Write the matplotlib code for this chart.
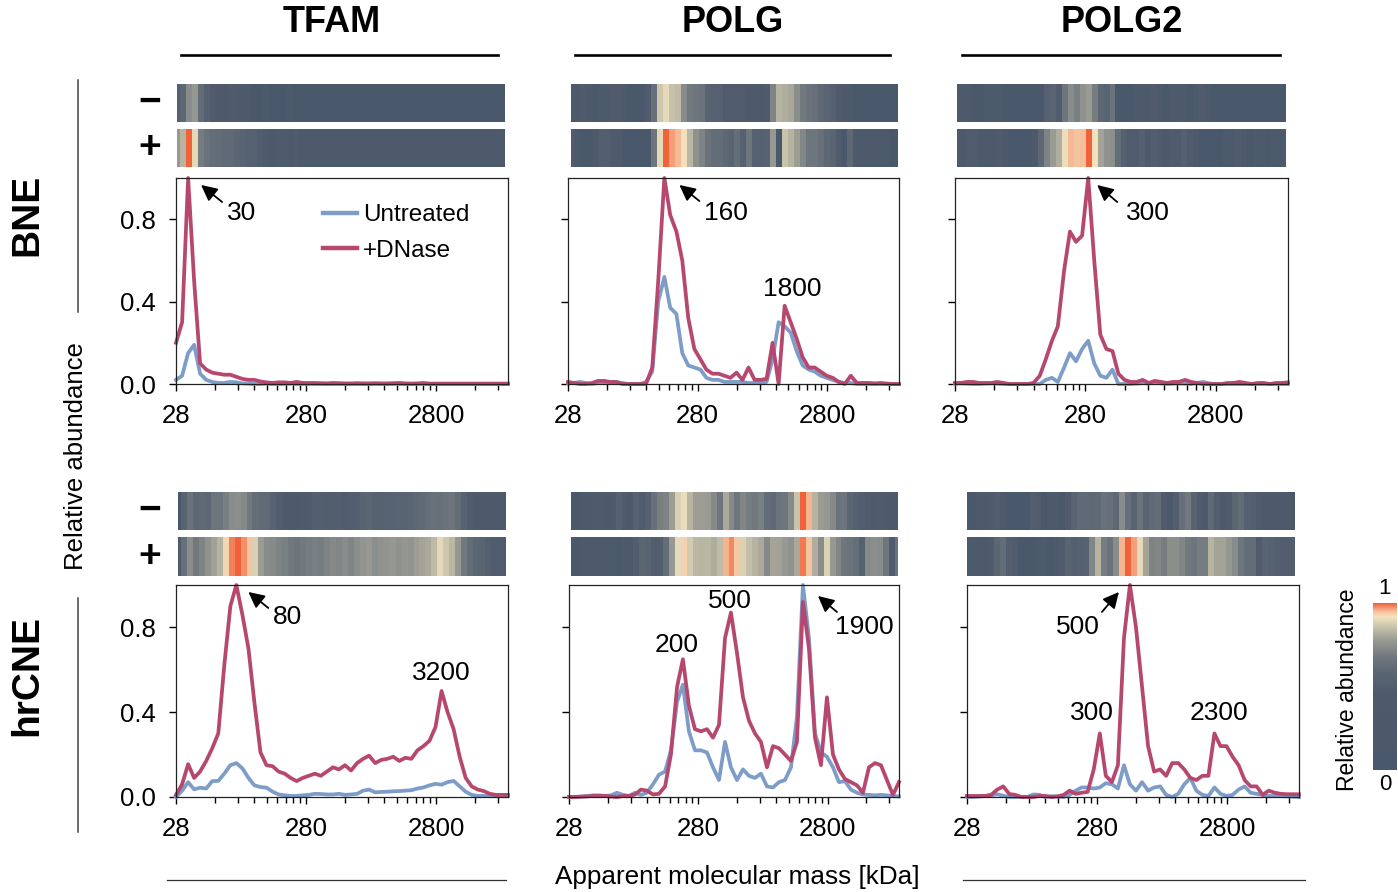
import numpy as np
import matplotlib as mpl
import matplotlib.pyplot as plt
from matplotlib.colors import LinearSegmentedColormap, PowerNorm, Normalize
from matplotlib.lines import Line2D
from matplotlib.ticker import FixedLocator, NullFormatter

plt.rcParams['font.family'] = ['Liberation Sans', 'DejaVu Sans']

# apparent molecular mass of each fraction (kDa)
mass = [28, 31.2, 34.7, 38.6, 42.9, 47.8, 53.2, 59.2, 65.8, 73.3,
        81.5, 90.7, 101, 112, 125, 139, 155, 172, 192, 213,
        237, 264, 294, 327, 364, 405, 451, 501, 558, 621,
        691, 769, 855, 952, 1059, 1179, 1312, 1460, 1624, 1807,
        2011, 2238, 2490, 2771, 3084, 3431, 3818, 4249, 4728, 5261,
        5855, 6515, 7250, 8067, 8977, 9990]

# --- BNE ---
tfam_bne_untreated = [0.02, 0.04, 0.15, 0.19, 0.05, 0.02, 0.01, 0.005, 0.005, 0.01,
                      0.008, 0.003, 0.002, 0, 0, 0.002, 0, 0, 0, 0.002,
                      0, 0, 0, 0, 0, 0, 0, 0, 0, 0,
                      0, 0, 0, 0, 0, 0, 0, 0, 0, 0,
                      0, 0, 0, 0, 0, 0, 0, 0, 0, 0,
                      0, 0, 0, 0, 0, 0]
tfam_bne_dnase = [0.2, 0.3, 1.0, 0.5, 0.1, 0.07, 0.055, 0.05, 0.045, 0.045,
                  0.035, 0.025, 0.02, 0.02, 0.012, 0.008, 0.005, 0.008, 0.008, 0.005,
                  0.01, 0.005, 0.005, 0.005, 0.004, 0.003, 0.005, 0.004, 0.003, 0.003,
                  0.004, 0.003, 0.003, 0.004, 0.003, 0.003, 0.004, 0.005, 0.003, 0.002,
                  0.003, 0.005, 0.002, 0.002, 0.002, 0.002, 0.002, 0.002, 0.002, 0.002,
                  0.002, 0.002, 0.002, 0.002, 0.002, 0.002]
polg_bne_untreated = [0.005, 0.005, 0.01, 0.005, 0, 0.005, 0.005, 0.01, 0.01, 0.005,
                      0, 0, 0, 0.01, 0.06, 0.4, 0.52, 0.37, 0.34, 0.15,
                      0.09, 0.08, 0.07, 0.03, 0.02, 0.02, 0.01, 0.01, 0.01, 0.01,
                      0.005, 0.005, 0.005, 0.01, 0.12, 0.3, 0.28, 0.25, 0.16, 0.09,
                      0.07, 0.06, 0.04, 0.03, 0.02, 0.01, 0.005, 0.005, 0, 0,
                      0, 0, 0, 0, 0, 0]
polg_bne_dnase = [0.01, 0.005, 0, 0, 0.005, 0.015, 0.015, 0.01, 0.01, 0,
                  0, 0, 0, 0, 0.08, 0.5, 1.0, 0.82, 0.74, 0.6,
                  0.32, 0.17, 0.12, 0.07, 0.05, 0.05, 0.04, 0.03, 0.055, 0.02,
                  0.08, 0.02, 0.02, 0.025, 0.2, 0.0, 0.38, 0.3, 0.22, 0.13,
                  0.08, 0.08, 0.06, 0.04, 0.03, 0.01, 0, 0.04, 0.005, 0.005,
                  0.005, 0.003, 0.005, 0.002, 0, 0]
polg2_bne_untreated = [0.002, 0.003, 0.002, 0, 0, 0.002, 0.003, 0.002, 0, 0,
                       0, 0, 0, 0, 0, 0.02, 0.03, 0.01, 0.08, 0.15,
                       0.11, 0.17, 0.21, 0.1, 0.04, 0.03, 0.07, 0, 0, 0,
                       0.002, 0.005, 0.002, 0.01, 0.003, 0, 0.002, 0.003, 0.002, 0,
                       0.005, 0.01, 0.003, 0, 0, 0, 0, 0, 0, 0,
                       0, 0, 0, 0, 0, 0]
polg2_bne_dnase = [0.005, 0.005, 0.01, 0.01, 0.005, 0.005, 0.005, 0.01, 0.005, 0,
                   0, 0, 0, 0.005, 0.04, 0.12, 0.21, 0.28, 0.55, 0.74,
                   0.69, 0.72, 1.0, 0.6, 0.24, 0.17, 0.16, 0.05, 0.02, 0.01,
                   0.01, 0.02, 0.005, 0.015, 0.01, 0.005, 0.01, 0.01, 0.02, 0.01,
                   0.005, 0, 0, 0, 0, 0.005, 0.005, 0.01, 0.005, 0,
                   0.005, 0.005, 0, 0.005, 0.005, 0.008]

# --- hrCNE ---
tfam_cne_untreated = [0, 0.03, 0.07, 0.036, 0.044, 0.04, 0.075, 0.076, 0.11, 0.15,
                      0.16, 0.135, 0.09, 0.055, 0.047, 0.044, 0.025, 0.012, 0.008, 0.005,
                      0.005, 0.008, 0.01, 0.015, 0.014, 0.012, 0.012, 0.015, 0.01, 0.012,
                      0.015, 0.03, 0.035, 0.022, 0.024, 0.025, 0.027, 0.028, 0.03, 0.032,
                      0.04, 0.045, 0.055, 0.062, 0.058, 0.07, 0.076, 0.05, 0.025, 0.01,
                      0.005, 0.005, 0.005, 0.004, 0.004, 0.004]
tfam_cne_dnase = [0.01, 0.06, 0.155, 0.09, 0.12, 0.17, 0.23, 0.3, 0.62, 0.9,
                  1.0, 0.86, 0.7, 0.45, 0.21, 0.15, 0.145, 0.12, 0.11, 0.09,
                  0.075, 0.09, 0.1, 0.11, 0.1, 0.12, 0.14, 0.13, 0.15, 0.125,
                  0.16, 0.18, 0.195, 0.16, 0.175, 0.18, 0.19, 0.17, 0.185, 0.18,
                  0.22, 0.24, 0.265, 0.33, 0.5, 0.4, 0.32, 0.19, 0.09, 0.05,
                  0.035, 0.028, 0.015, 0.01, 0.01, 0.01]
polg_cne_untreated = [0, 0, 0.002, 0.004, 0.008, 0.008, 0.005, 0.008, 0.02, 0.01,
                      0.005, 0.02, 0.01, 0.02, 0.06, 0.105, 0.12, 0.22, 0.45, 0.53,
                      0.31, 0.22, 0.22, 0.21, 0.14, 0.08, 0.26, 0.14, 0.08, 0.13,
                      0.1, 0.09, 0.11, 0.05, 0.045, 0.07, 0.08, 0.14, 0.38, 1.0,
                      0.75, 0.3, 0.21, 0.19, 0.14, 0.07, 0.075, 0.035, 0.02, 0.012,
                      0.01, 0.008, 0.01, 0.008, 0.004, 0.003]
polg_cne_dnase = [0, 0, 0.002, 0.003, 0.005, 0.005, 0.005, 0.002, 0, 0.005,
                  0.005, 0.012, 0.035, 0.03, 0.012, 0.015, 0.05, 0.2, 0.52, 0.65,
                  0.43, 0.32, 0.31, 0.32, 0.28, 0.34, 0.75, 0.87, 0.68, 0.47,
                  0.36, 0.3, 0.26, 0.14, 0.24, 0.23, 0.2, 0.17, 0.26, 0.92,
                  0.7, 0.28, 0.15, 0.47, 0.2, 0.13, 0.085, 0.07, 0.055, 0.02,
                  0.14, 0.16, 0.15, 0.08, 0.01, 0.07]
polg2_cne_untreated = [0, 0, 0.002, 0.005, 0.008, 0.013, 0.006, 0, 0, 0,
                       0, 0.012, 0.01, 0, 0.004, 0.002, 0, 0.01, 0.03, 0.045,
                       0.045, 0.04, 0.045, 0.065, 0.06, 0.04, 0.15, 0.06, 0.03, 0.07,
                       0.03, 0.045, 0.05, 0.01, 0, 0.015, 0.06, 0.09, 0.03, 0.01,
                       0.005, 0.045, 0.015, 0.005, 0.01, 0.035, 0.05, 0.02, 0.015, 0.01,
                       0.005, 0.005, 0.004, 0.003, 0.002, 0]
polg2_cne_dnase = [0.005, 0.005, 0.005, 0.005, 0.01, 0.035, 0.05, 0.014, 0.01, 0,
                   0, 0, 0.005, 0.005, 0, 0.003, 0.01, 0.03, 0.015, 0.02,
                   0.024, 0.13, 0.3, 0.1, 0.07, 0.15, 0.75, 1.0, 0.8, 0.52,
                   0.24, 0.12, 0.13, 0.1, 0.16, 0.16, 0.13, 0.09, 0.08, 0.1,
                   0.1, 0.3, 0.24, 0.24, 0.19, 0.15, 0.08, 0.05, 0.05, 0.01,
                   0.03, 0.02, 0.015, 0.013, 0.013, 0.013]

proteins = ['TFAM', 'POLG', 'POLG2']
methods = ['BNE', 'hrCNE']
profiles = {
    ('BNE', 'TFAM'): (tfam_bne_untreated, tfam_bne_dnase),
    ('BNE', 'POLG'): (polg_bne_untreated, polg_bne_dnase),
    ('BNE', 'POLG2'): (polg2_bne_untreated, polg2_bne_dnase),
    ('hrCNE', 'TFAM'): (tfam_cne_untreated, tfam_cne_dnase),
    ('hrCNE', 'POLG'): (polg_cne_untreated, polg_cne_dnase),
    ('hrCNE', 'POLG2'): (polg2_cne_untreated, polg2_cne_dnase),
}

W, H = 1398, 892
fig = plt.figure(figsize=(W / 100, H / 100), dpi=100)


def box(x0, y0, x1, y1):
    # pixel box (top-left origin) -> figure fraction rect
    return [x0 / W, 1 - y1 / H, (x1 - x0) / W, (y1 - y0) / H]


# panel boxes: profile axes, and the x-range / rows of the heat strips
axes_px = {
    ('BNE', 'TFAM'): (176, 178, 508, 384), ('BNE', 'POLG'): (568, 178, 899, 384),
    ('BNE', 'POLG2'): (955, 178, 1288, 384),
    ('hrCNE', 'TFAM'): (176, 585, 508, 797), ('hrCNE', 'POLG'): (569, 585, 899, 797),
    ('hrCNE', 'POLG2'): (967, 585, 1299, 797),
}
strip_x = {
    ('BNE', 'TFAM'): (177, 505), ('BNE', 'POLG'): (571, 898), ('BNE', 'POLG2'): (957, 1286),
    ('hrCNE', 'TFAM'): (178, 506), ('hrCNE', 'POLG'): (571, 898), ('hrCNE', 'POLG2'): (967, 1295),
}
strip_y = {'BNE': ((84, 122), (129, 167)), 'hrCNE': ((492, 530), (537, 576))}

blue = '#7d9dc8'
red = '#b6486f'
cmap = LinearSegmentedColormap.from_list('abundance', [
    (0.0, '#4a586b'), (0.45, '#4d5a6c'), (0.58, '#5a6573'), (0.68, '#70787e'),
    (0.78, '#9a9b93'), (0.86, '#c9c4ab'), (0.92, '#f3e3c0'), (0.96, '#f5b08c'),
    (1.0, '#f0623a')])
strip_norm = PowerNorm(gamma=0.16, vmin=0, vmax=1)

m = np.array(mass)
edges = np.concatenate([[28], np.sqrt(m[:-1] * m[1:]), [10000]])
major = [28, 280, 2800]
minor = [28 * k * 10 ** d for d in range(3) for k in range(2, 10) if 28 * k * 10 ** d < 10000]

axes = {}
for method in methods:
    for ci, prot in enumerate(proteins):
        key = (method, prot)
        untreated, dnase = profiles[key]

        # heat strips: untreated (-) on top, +DNase below
        sx0, sx1 = strip_x[key]
        for (sy0, sy1), vals in zip(strip_y[method], (untreated, dnase)):
            sax = fig.add_axes(box(sx0, sy0, sx1, sy1))
            sax.pcolormesh(edges, [0, 1], np.array([vals]), cmap=cmap, norm=strip_norm)
            sax.set_xscale('log')
            sax.set_xlim(28, 10000)
            sax.set_ylim(0, 1)
            sax.axis('off')

        ax = fig.add_axes(box(*axes_px[key]))
        ax.plot(mass, untreated, color=blue, lw=2.7, clip_on=False, solid_joinstyle='round')
        ax.plot(mass, dnase, color=red, lw=2.7, clip_on=False, solid_joinstyle='round')
        ax.set_xscale('log')
        ax.set_xlim(28, 10000)
        ax.set_ylim(0, 1.0)
        ax.xaxis.set_major_locator(FixedLocator(major))
        ax.xaxis.set_minor_locator(FixedLocator(minor))
        ax.xaxis.set_minor_formatter(NullFormatter())
        ax.set_xticklabels(['28', '280', '2800'])
        ax.set_yticks([0, 0.4, 0.8])
        if ci == 0:
            ax.set_yticklabels(['0.0', '0.4', '0.8'])
        else:
            ax.set_yticklabels([])
        ax.tick_params(axis='x', which='major', length=5.2, width=1, labelsize=18.5, pad=9)
        ax.tick_params(axis='x', which='minor', length=4, width=1)
        ax.tick_params(axis='y', length=5.2, width=1, labelsize=18.5, pad=9.5)
        for sp in ax.spines.values():
            sp.set_linewidth(0.9)
            sp.set_color('#222222')
        axes[key] = ax


def arrow_label(ax, x, y, text, tip, tail, txt, ha='left'):
    px, py = ax.transData.transform((x, y))
    ax.annotate('', xy=(px + tip[0], py + tip[1]), xycoords='figure pixels',
                xytext=(px + tail[0], py + tail[1]), textcoords='figure pixels',
                arrowprops=dict(arrowstyle='-|>', color='black', lw=1.3,
                                mutation_scale=24, shrinkA=0, shrinkB=0))
    ax.annotate(text, xy=(x, y), xytext=txt, textcoords='offset pixels',
                ha=ha, va='center', fontsize=19)


def peak_label(ax, x, y, text, off):
    ax.annotate(text, xy=(x, y), xytext=off, textcoords='offset pixels',
                ha='center', va='center', fontsize=19)


arrow_label(axes[('BNE', 'TFAM')], mass[2], tfam_bne_dnase[2], '30', (13, -7), (34, -24), (39, -35))
arrow_label(axes[('BNE', 'POLG')], mass[16], polg_bne_dnase[16], '160', (15, -7), (35, -23), (40, -35))
arrow_label(axes[('BNE', 'POLG2')], mass[22], polg2_bne_dnase[22], '300', (9, -7), (29, -24), (38, -35))
peak_label(axes[('BNE', 'POLG')], mass[36], polg_bne_dnase[36], '1800', (8, 17))

arrow_label(axes[('hrCNE', 'TFAM')], mass[10], tfam_cne_dnase[10], '80', (12, -7), (32, -23), (37, -32))
peak_label(axes[('hrCNE', 'TFAM')], mass[44], tfam_cne_dnase[44], '3200', (0, 18))
arrow_label(axes[('hrCNE', 'POLG')], mass[39], polg_cne_untreated[39], '1900', (15, -11), (34, -27), (32, -42))
peak_label(axes[('hrCNE', 'POLG')], mass[19], polg_cne_dnase[19], '200', (-6, 14))
peak_label(axes[('hrCNE', 'POLG')], mass[27], polg_cne_dnase[27], '500', (-1, 12))
arrow_label(axes[('hrCNE', 'POLG2')], mass[27], polg2_cne_dnase[27], '500', (-11, -7), (-28, -27), (-30, -42), ha='right')
peak_label(axes[('hrCNE', 'POLG2')], mass[22], polg2_cne_dnase[22], '300', (-8, 20))
peak_label(axes[('hrCNE', 'POLG2')], mass[41], polg2_cne_dnase[41], '2300', (4, 20))

# legend in the first panel
handles = [Line2D([], [], color=blue, lw=3.2), Line2D([], [], color=red, lw=3.2)]
axes[('BNE', 'TFAM')].legend(handles, ['Untreated', '+DNase'], loc='upper left',
                             bbox_to_anchor=(0.443, 0.873), frameon=False, fontsize=17.5,
                             handlelength=1.4, handletextpad=0.25, labelspacing=0.55,
                             borderpad=0, borderaxespad=0)

# column headers with rules
col_centres = [332, 733, 1122]
col_rules = [(181, 498), (575, 890), (962, 1280)]
for prot, cx, (r0, r1) in zip(proteins, col_centres, col_rules):
    fig.text(cx / W, 1 - 23 / H, prot, ha='center', va='center', fontsize=26, fontweight='bold')
    fig.add_artist(Line2D([r0 / W, r1 / W], [1 - 54.5 / H] * 2, color='black', lw=1.9))

# row headers with vertical rules
for name, cy, (v0, v1) in [('BNE', 215, (80, 312)), ('hrCNE', 675, (598, 832))]:
    fig.text(27 / W, 1 - cy / H, name, rotation=90, ha='center', va='center',
             fontsize=28, fontweight='bold')
    fig.add_artist(Line2D([78 / W] * 2, [1 - v0 / H, 1 - v1 / H], color='#444444', lw=1.1))

# -/+ treatment marks beside the strips
for method in methods:
    for (sy0, sy1), sign in zip(strip_y[method], ['\u2212', '+']):
        fig.text(150 / W, 1 - (sy0 + sy1) / 2 / H, sign, ha='center', va='center',
                 fontsize=28, fontweight='bold')

fig.text(76 / W, 1 - 456 / H, 'Relative abundance', rotation=90, ha='center', va='center', fontsize=18.5)
fig.text(737 / W, 1 - 877 / H, 'Apparent molecular mass [kDa]', ha='center', va='center', fontsize=18.8)
fig.add_artist(Line2D([167 / W, 506 / W], [1 - 880 / H] * 2, color='#333333', lw=0.9))
fig.add_artist(Line2D([963 / W, 1305 / W], [1 - 880 / H] * 2, color='#333333', lw=0.9))

# colour scale
cax = fig.add_axes(box(1373, 603, 1397, 770))
cb = fig.colorbar(mpl.cm.ScalarMappable(norm=Normalize(0, 1), cmap=cmap), cax=cax)
cb.set_ticks([])
cb.outline.set_visible(False)
fig.text(1385 / W, 1 - 588 / H, '1', ha='center', va='center', fontsize=16)
fig.text(1385 / W, 1 - 784 / H, '0', ha='center', va='center', fontsize=16)
fig.text(1348 / W, 1 - 690 / H, 'Relative abundance', rotation=90, ha='center', va='center', fontsize=16.5)

fig.savefig('out.png', dpi=100)
